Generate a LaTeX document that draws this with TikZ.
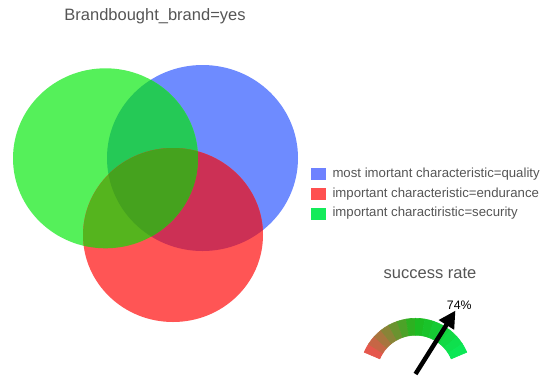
\documentclass[tikz,border=0pt]{standalone}
\usepackage{fontspec}
\setmainfont{Liberation Sans}
\usetikzlibrary{arrows.meta,calc}
\definecolor{cblue}{RGB}{110,139,255}
\definecolor{cgreen}{RGB}{85,240,90}
\definecolor{cred}{RGB}{255,85,85}
\definecolor{cbg}{RGB}{37,201,86}
\definecolor{cbr}{RGB}{204,48,85}
\definecolor{cgr}{RGB}{85,180,30}
\definecolor{call}{RGB}{69,162,30}
\definecolor{lblue}{RGB}{110,130,255}
\definecolor{lred}{RGB}{255,80,80}
\definecolor{lgreen}{RGB}{20,235,90}
\definecolor{txtgray}{RGB}{85,85,85}
\tikzset{
  titletext/.style={font=\fontsize{16.5}{19}\selectfont, text=txtgray, inner sep=0pt},
  legtext/.style={font=\fontsize{13.2}{15}\selectfont, text=txtgray, inner sep=0pt, anchor=west},
  legbox/.style={minimum width=15pt, minimum height=12pt, inner sep=0pt, draw=none},
  needle/.style={line width=4.5pt, -{Triangle[length=17pt,width=17pt]}, black}
}
\newcommand{\GreenE}{(105.5,158.3) ellipse [x radius=92.5, y radius=90]}
\newcommand{\BlueE}{(202.5,158) ellipse [x radius=95.5, y radius=93]}
\newcommand{\RedE}{(173,235) ellipse [x radius=90, y radius=87]}
\begin{document}
\begin{tikzpicture}[x=1pt,y=-1pt]
\useasboundingbox (0,0) rectangle (546,376);
% title
\node[titletext] (title) at (155,16) {Brandbought\_brand=yes};
% venn
\fill[cblue] \BlueE;
\fill[cgreen] \GreenE;
\begin{scope}\clip \GreenE; \fill[cbg] \BlueE; \end{scope}
\fill[cred] \RedE;
\begin{scope}\clip \RedE; \fill[cbr] \BlueE; \end{scope}
\begin{scope}\clip \RedE; \fill[cgr] \GreenE; \end{scope}
\begin{scope}\clip \RedE; \clip \GreenE; \fill[call] \BlueE; \end{scope}
% legend
\node[legbox, fill=lblue] (lb1) at (318,174) {};
\node[legbox, fill=lred] (lb2) at (318,194) {};
\node[legbox, fill=lgreen] (lb3) at (318,213.5) {};
\node[legtext] (lt1) at (332.3,174) {most imortant characteristic=quality};
\node[legtext] (lt2) at (332.3,194) {important characteristic=endurance};
\node[legtext] (lt3) at (332.3,213.5) {important charactiristic=security};
% gauge
\node[titletext] (gtitle) at (430,273) {success rate};
\coordinate (gc) at (415.5,374);
\foreach \i in {0,...,13}{
  \pgfmathsetmacro{\t}{(\i+0.5)/14}
  \pgfmathsetmacro{\aa}{-157+\i*134/14}
  \pgfmathsetmacro{\ab}{-157+(\i+1)*134/14}
  \ifdim \t pt<0.5pt
    \pgfmathtruncatemacro{\cr}{245+(30-245)*\t*2}
    \pgfmathtruncatemacro{\cg}{80+(185-80)*\t*2}
    \pgfmathtruncatemacro{\cb}{80+(30-80)*\t*2}
  \else
    \pgfmathtruncatemacro{\cr}{30+(10-30)*(\t-0.5)*2}
    \pgfmathtruncatemacro{\cg}{185+(235-185)*(\t-0.5)*2}
    \pgfmathtruncatemacro{\cb}{30+(90-30)*(\t-0.5)*2}
  \fi
  \definecolor{segc}{RGB}{\cr,\cg,\cb}
  \filldraw[fill=segc, draw=segc, line width=0.6pt, line join=miter] ($(gc)+(\aa:55.7)$) arc[start angle=\aa, end angle=\ab, radius=55.7]
     -- ($(gc)+(\ab:38.8)$) arc[start angle=\ab, end angle=\aa, radius=38.8] -- cycle;
}
\coordinate (gtip) at ($(gc)+(-57.8:75)$);
\draw[needle] (gc) -- (gtip);
\node[font=\fontsize{12.3}{14}\selectfont, inner sep=0pt] (pct) at (459.3,305.7) {74\%};
\end{tikzpicture}
\end{document}
